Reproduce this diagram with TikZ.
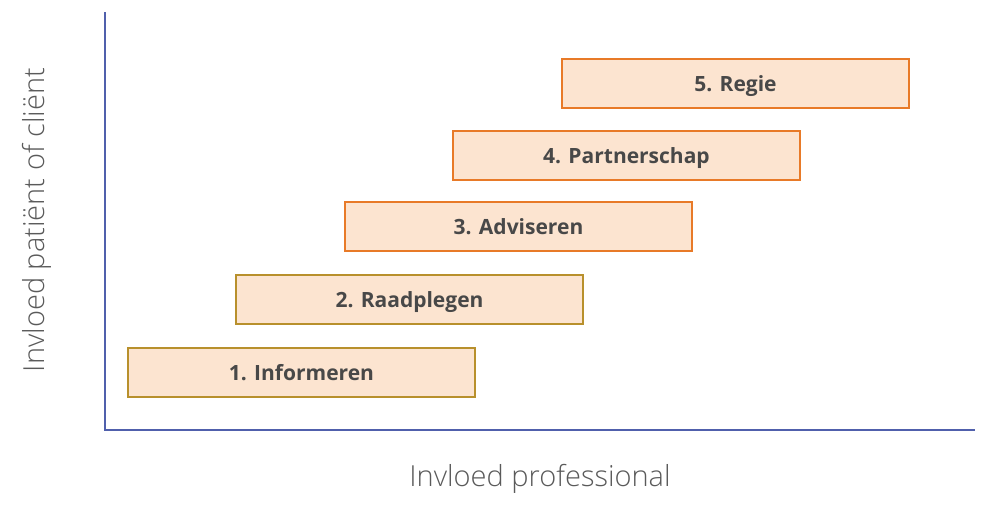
\documentclass[tikz,border=0pt]{standalone}
\usepackage{fontspec}
\setmainfont{Open Sans}
\newfontfamily\lightfont{Open Sans Light}
\definecolor{axisblue}{RGB}{80,96,172}
\definecolor{boxfill}{RGB}{252,228,208}
\definecolor{goldline}{RGB}{184,144,44}
\definecolor{orangeline}{RGB}{232,122,40}
\definecolor{textgray}{RGB}{72,72,72}
\definecolor{labelgray}{RGB}{90,90,90}
\tikzset{
  levelbox/.style={draw, fill=boxfill, line width=2pt, minimum width=347pt, minimum height=49pt,
    inner sep=0pt, text height=20pt, text depth=4pt, text=textgray, font=\bfseries\fontsize{21}{25}\selectfont},
  goldbox/.style={levelbox, draw=goldline},
  orangebox/.style={levelbox, draw=orangeline},
  axislabel/.style={text=labelgray, font=\lightfont\fontsize{29}{34}\selectfont, inner sep=0pt},
  axisline/.style={draw=axisblue, line width=2.4pt}
}
\begin{document}
\begin{tikzpicture}[x=1pt,y=-1pt]
\useasboundingbox (0,0) rectangle (1000,523);
\coordinate (top) at (105,12);
\coordinate (origin) at (105,430);
\coordinate (right) at (975,430);
\draw[axisline] (top) -- (origin) -- (right);
\node[goldbox] (b1) at (301.5,372.5) {1. Informeren};
\node[goldbox] (b2) at (409.5,299.5) {2. Raadplegen};
\node[orangebox] (b3) at (518.5,226) {3. Adviseren};
\node[orangebox] (b4) at (626.5,155) {4. Partnerschap};
\node[orangebox] (b5) at (735.5,83) {5. Regie};
\node[axislabel] (xl) at (540,479) {Invloed professional};
\node[axislabel, rotate=90] (yl) at (37,220) {Invloed patiënt of cliënt};
\end{tikzpicture}
\end{document}
